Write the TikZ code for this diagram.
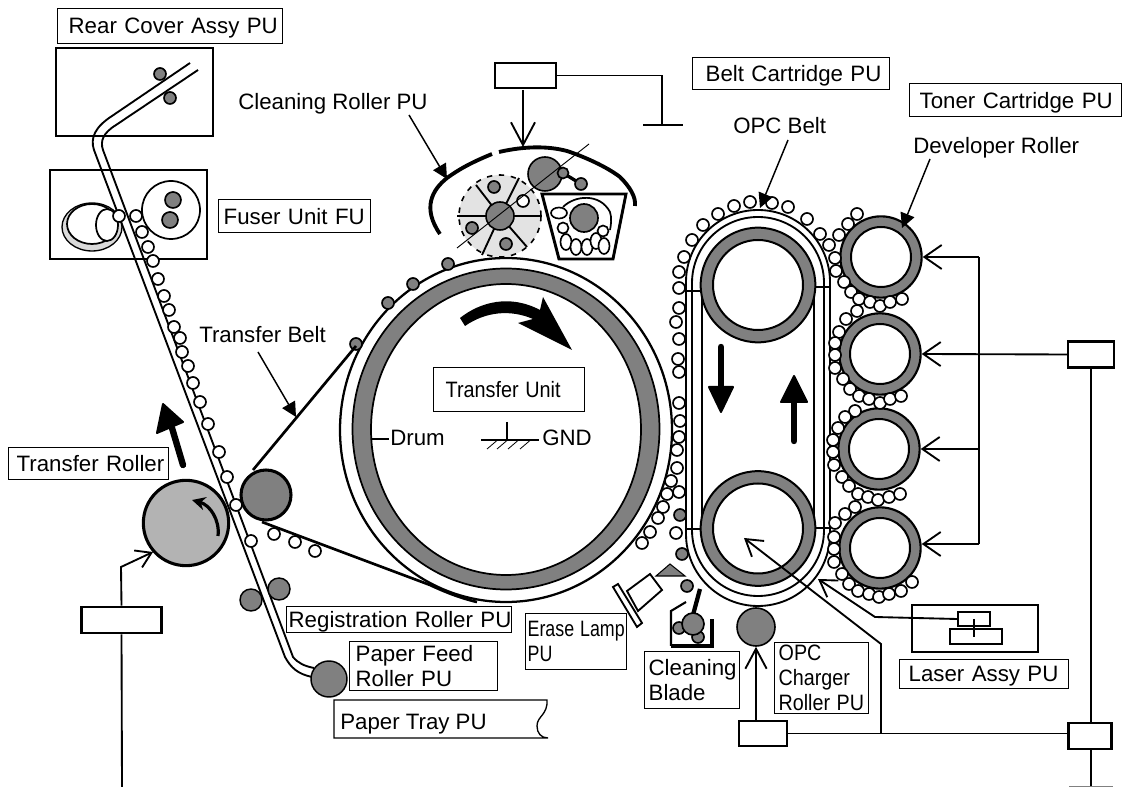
\documentclass[tikz,border=0pt]{standalone}
\usepackage{graphicx}
\usepackage{fontspec}
\setmainfont{Liberation Sans}
\usetikzlibrary{arrows.meta}
\definecolor{gr}{HTML}{808080}
\definecolor{lgr}{HTML}{B3B3B3}
\definecolor{disc}{HTML}{E3E3E3}
\definecolor{pale}{HTML}{DADADA}
\tikzset{
 lbl/.style={font=\fontsize{16.7pt}{18.75pt}\selectfont,inner sep=0pt},
 labelbox/.style={lbl,draw,line width=1pt,inner ysep=0pt,align=left,text depth=0pt},
 ctl/.style={draw,line width=1.6pt,fill=white,inner sep=0pt},
 wire/.style={line width=1.4pt},
 barb/.style={-{Straight Barb[length=13pt,width=18pt]},line width=1.4pt},
 sbarb/.style={-{Straight Barb[length=11pt,width=14pt]},line width=1.4pt},
 fhead/.style={-{Triangle[length=11pt,width=11pt]},line width=1.1pt},
 bead/.style={draw,fill=white,line width=1.25pt},
 gbead/.style={draw,fill=gr,line width=1.25pt},
 roll/.style={circle,draw,fill=gr,inner sep=0pt,line width=1.3pt},
 devr/.style={roll,minimum size=61pt,line width=1.6pt},
 thickarr/.style={fill=black,draw=black,line width=1.5pt,line join=round},
 paper/.style={line width=1.4pt},
}
\newcommand{\lbox}[8][]{%
 \pgfmathsetlengthmacro{\ww}{(#5-#3-2*#7)*0.75pt}%
 \pgfmathsetlengthmacro{\hh}{(#6-#4)*0.75pt}%
 \pgfmathsetlengthmacro{\pp}{#7*0.75pt}%
 \node[labelbox,#1,text width=\ww,inner xsep=\pp,minimum height=\hh,anchor=north west] (#2) at (#3,#4) {#8};}
\begin{document}
\begin{tikzpicture}[x=0.75pt,y=-0.75pt]
\useasboundingbox (0,0) rectangle (1122,787);
\fill[white] (0,0) rectangle (1122,787);
% ---- rear cover / fuser
\draw[line width=1.6pt] (56,48) rectangle (213,136);
\draw[line width=1.6pt] (50,170) rectangle (207,259);
\fill[pale,draw=black,line width=1pt] (92,227) ellipse [x radius=30,y radius=24];
\draw[fill=white,line width=1.3pt] (92,224) ellipse [x radius=25,y radius=20];
\draw[fill=white,line width=1.3pt] (107,225) ellipse [x radius=11,y radius=16];
\draw[fill=white,line width=1.3pt] (171,210) circle [radius=29];
\draw[gbead] (173,200) circle [radius=8];
\draw[gbead] (170,220) circle [radius=8];
\draw[gbead] (160,74) circle [radius=6];
\draw[gbead] (170,98) circle [radius=6];
% ---- paper path
\draw[paper] (190,63) -- (112,116) .. controls (95,127) and (90,138) .. (94,150) -- (285,657) .. controls (291,668) and (298,674) .. (312,677);
\draw[paper] (198,70) -- (116,125) .. controls (103,133) and (100,141) .. (103,150) -- (293,657) .. controls (298,663) and (304,666) .. (314,668);
\foreach \p in {(119,216),(136,216),(142,232),(148,247),(153,261),(158,279),(164,296),(169,310),(174,327),(180,338),(182,352),(188,366),(193,383),(200,402),(208,424),(219,452),(227,477)}
  \draw[bead] \p circle [radius=6];
% ---- drum
\draw[line width=1.7pt,fill=white] (506,430) ellipse [x radius=166,y radius=172];
\draw[line width=1.3pt,fill=gr] (506,429) ellipse [x radius=153.5,y radius=160.5];
\draw[line width=1.3pt,fill=white] (506,429.5) ellipse [x radius=135,y radius=145.5];
\foreach \p in {(448,264),(413,284),(388,303),(356,344)}
  \draw[gbead] \p circle [radius=6];
% ---- transfer belt and rollers
\draw[line width=2pt] (253,470) -- (356,346);
\draw[line width=2pt] (262,522) -- (430,585) .. controls (445,592) and (460,598) .. (477,602);
\node[roll,minimum size=37.5pt,line width=2.3pt] (tbelt) at (266,495) {};
\node[roll,fill=lgr,minimum size=64pt,line width=2.3pt] (troll) at (186,523) {};
\foreach \p in {(236,505),(251,541),(274,534),(295,542),(315,551)}
  \draw[bead] \p circle [radius=6];
\draw[-{Stealth[length=10pt,width=10pt]},line width=2.4pt] (218,536) .. controls (220,520) and (210,505) .. (192,500);
\node[roll,minimum size=16.5pt,line width=1.1pt] (reg1) at (251,600) {};
\node[roll,minimum size=16.5pt,line width=1.1pt] (reg2) at (279,589) {};
\node[roll,minimum size=27pt,line width=1.1pt] (feed1) at (329,679) {};
% big upward arrow near transfer roller
\draw[line width=4.8pt,line cap=round] (183,465) -- (172,428);
\fill[thickarr] (163,404) -- (183,422) -- (157,433) -- cycle;
% big curved arrow in drum
\fill[black] (460,318) .. controls (480,302) and (510,294) .. (540,310) -- (543,297) -- (572,350) -- (518,323) -- (533,319) .. controls (510,309) and (485,312) .. (465,326) -- cycle;
% ---- cleaning roller unit
\draw[line width=2.9pt] (492,154) .. controls (470,163) and (458,170) .. (447,178) .. controls (432,190) and (422,208) .. (440,234);
\draw[line width=2.9pt] (499,152) .. controls (525,146) and (548,146) .. (567,151) .. controls (585,157) and (607,167) .. (620,177) .. controls (630,187) and (636,197) .. (635,206);
\fill[disc] (500,216) circle [radius=41];
\draw[line width=1.2pt,dash pattern=on 4pt off 5pt] (500,216) circle [radius=41];
\foreach \e in {(457,216),(542,216),(519,178),(476,185),(482,255),(527,247)}
  \draw[line width=1.4pt] (500,216) -- \e;
\node[roll,minimum size=21pt,line width=1.2pt] (clean) at (500,216) {};
\draw[gbead] (494,187) circle [radius=6];
\draw[gbead] (472,228) circle [radius=6];
\draw[gbead] (506,244) circle [radius=6];
\draw[bead] (523,201) circle [radius=6];
\node[roll,minimum size=25.5pt,line width=1.2pt] (top) at (545,174) {};
\draw[line width=2.5pt] (563,173) -- (581,184);
\draw[gbead] (563,173) circle [radius=5.5];
\draw[gbead] (581,184) circle [radius=6];
\coordinate (dia1) at (457,248);
\coordinate (dia2) at (589,144);
\draw[line width=.7pt] (dia1) -- (dia2);
% toner cartridge
\draw[line width=2.2pt,fill=white] (542,194) -- (626,194) -- (613,259) -- (559,259) -- cycle;
\draw[line width=1.3pt] (563,207) .. controls (575,195) and (600,193) .. (610,212) .. controls (612,218) and (611,225) .. (610,230);
\draw[gbead] (584,218) circle [radius=14];
\draw[bead] (559,213) ellipse [x radius=8,y radius=5.5];
\draw[bead] (563,228) circle [radius=5.5];
\draw[bead] (603,231) circle [radius=5.5];
\foreach \p in {(566,242),(576,247),(587,247),(596,241),(604,246)}
  \draw[bead] \p ellipse [x radius=5.5,y radius=8];
% ---- OPC belt
\draw[line width=1.4pt] (686,534) -- (686,282) arc [start angle=180,end angle=360,radius=72] -- (830,534) arc [start angle=0,end angle=180,radius=72];
\draw[line width=1.4pt] (692,530) -- (692,283) arc [start angle=180,end angle=360,radius=66] -- (824,530) arc [start angle=0,end angle=180,radius=66];
\draw[line width=1.1pt] (702,285) -- (702,528) (814,285) -- (814,528);
\draw[line width=1.2pt] (686,291) -- (702,291) (814,287) -- (830,287) (686,529) -- (702,529) (814,528) -- (830,528);
\node[roll,minimum size=86pt,line width=1.5pt] (opc1) at (758,285) {};
\node[roll,minimum size=86pt,line width=1.5pt] (opc2) at (758,528.5) {};
\draw[line width=1.5pt,fill=white] (opc1) circle [radius=45];
\draw[line width=1.5pt,fill=white] (opc2) circle [radius=45];
\draw[line width=4.8pt,line cap=round] (721,347) -- (721,390);
\fill[thickarr] (709,387) -- (733,387) -- (721,412) -- cycle;
\draw[line width=4.8pt,line cap=round] (794,441) -- (794,400);
\fill[thickarr] (781,402) -- (807,402) -- (794,376) -- cycle;
\foreach \p in {(788,207),(772,203),(750,202),(734,206),(718,214),(703,225),(692,240),(684,257),(679,272),(679,288),(679,308),(676,322),(679,339),(678,359),(679,372),(679,403),(680,421),(679,437),(677,450),(677,468),(671,481),(667,494),(663,507),(658,518),(650,532),(642,543),(679,492),(676,533),(807,219),(820,234),(829,245)}
  \draw[bead] \p circle [radius=6];
\foreach \p in {(680,515),(682,554),(687,586)}
  \draw[gbead] \p circle [radius=6];
% developer rollers
\node[devr] (d1) at (881,257) {};
\node[devr] (d2) at (880,354) {};
\node[devr] (d3) at (879,449) {};
\node[devr] (d4) at (880,548) {};
\foreach \n in {d1,d2,d3,d4} \draw[line width=1.5pt,fill=white] (\n) circle [radius=30];
\foreach \p in {(857,214),(848,224),(839,235),(835,258),(836,271),(844,282),(851,292),(859,299),(870,302),(880,306),(890,302),(902,299),
 (857,311),(846,319),(839,332),(835,343),(835,355),(835,368),(843,379),(850,389),(859,396),(869,399),(880,403),(890,399),(901,396),
 (855,411),(845,417),(838,428),(833,440),(833,452),(834,465),(842,477),(849,486),(858,494),(868,497),(878,500),(889,497),(900,494),
 (855,507),(845,514),(835,523),(834,537),(834,549),(834,562),(842,574),(849,584),(858,591),(869,594),(879,597),(889,594),(901,591),(912,582)}
  \draw[bead] \p circle [radius=6];
% ---- control boxes and wires
\node[ctl,minimum width=45.75pt,minimum height=18.75pt] (c1) at (525.5,75.5) {};
\node[ctl,minimum width=60pt,minimum height=20pt] (c2) at (121.5,620) {};
\node[ctl,minimum width=34.5pt,minimum height=19.5pt] (c3) at (1091,354.5) {};
\node[ctl,minimum width=36pt,minimum height=18.75pt] (c4) at (763,733.5) {};
\node[ctl,minimum width=32.25pt,minimum height=19.5pt] (c5) at (1090,736) {};
\coordinate (gnd1) at (662,125);
\coordinate (gndl) at (643,125);
\coordinate (gndr) at (683,125);
\draw[wire] (c1.east) -| (gnd1);
\draw[wire] (gndl) -- (gndr);
\coordinate (c1a) at (523,90);
\coordinate (c1b) at (523,147);
\draw[barb,-{Straight Barb[length=17pt,width=18pt]}] (c1a) -- (c1b);
\coordinate (bot) at (122,787);
\coordinate (k1) at (121,567);
\coordinate (k2) at (153,552);
\draw[wire] (bot) -- (c2.south);
\draw[sbarb] (c2.north) -- (k1) -- (k2);
\coordinate (r1) at (979,257);
\coordinate (r4) at (979,544);
\draw[barb] (r1) -- (d1.east);
\draw[wire] (r1) -- (r4);
\draw[barb] (c3.west) -- (d2.east);
\draw[barb] (979,449) -- (d3.east);
\draw[barb] (r4) -- (d4.east |- r4);
\draw[wire] (c3.south) -- (c5.north -| c3.south);
\draw[wire] (c4.east) -- (c4.east -| c5.west);
\node[roll,minimum size=28.5pt,line width=1.2pt] (charge) at (756,627) {};
\draw[barb,-{Straight Barb[length=15pt,width=16pt]}] (c4.north -| charge.south) -- (charge.south);
\coordinate (k3) at (881,644);
\coordinate (t3) at (744,538);
\draw[barb,-{Straight Barb[length=12pt,width=15pt]}] (881,733) -- (k3) -- (t3);
\coordinate (b5a) at (1091,749);
\coordinate (b5b) at (1091,786);
\draw[wire] (b5a) -- (b5b);
\draw[line width=.8pt,gray] (1069,786.6) -- (1113,786.6);
% laser
\node[draw,line width=1.7pt,minimum width=94.5pt,minimum height=35.25pt,inner sep=0pt] (laser) at (975,628.5) {};
\node[draw,line width=1.4pt,minimum width=24pt,minimum height=10.5pt,inner sep=0pt] (las1) at (974,619) {};
\node[draw,line width=1.4pt,minimum width=39pt,minimum height=11.25pt,inner sep=0pt] (las2) at (976,636.5) {};
\coordinate (las3) at (974,619);
\coordinate (las4) at (974,637);
\draw[line width=1.4pt] (las3) -- (las4);
\coordinate (k4) at (875,617);
\coordinate (t4) at (818,579);
\draw[barb,-{Straight Barb[length=12pt,width=15pt]}] (las1.west) -- (k4) -- (t4);
% erase lamp, blade
\fill[gr,draw=black,line width=.8pt] (656,576) -- (670,564) -- (685,576) -- cycle;
\draw[line width=1.4pt,fill=white] (627,591) -- (650,574) -- (662,590) -- (638,611) -- cycle;
\draw[line width=1.4pt,fill=white] (613,587) -- (618,584) -- (642,623) -- (637,627) -- cycle;
\draw[line width=1.6pt] (686,602) -- (671,611) -- (671,646);
\draw[line width=2.3pt] (671,646) -- (712,646) -- (712,619);
\draw[line width=3.2pt] (700,589) -- (693,615);
\draw[gbead] (679,628) circle [radius=6];
\draw[gbead] (698,637) circle [radius=6];
\draw[gbead] (693,624) circle [radius=11];
% paper tray outline
\draw[line width=1pt] (548,738) -- (334,738) -- (334,700) -- (547,700) .. controls (548,715) and (537,716) .. (537,726) .. controls (537,733) and (541,738) .. (548,738);
% ---- GND and drum stub
\coordinate (dr1) at (372,439); \coordinate (dr2) at (389,439);
\draw[line width=.8pt] (dr1) -- (dr2);
\coordinate (g1) at (507,422); \coordinate (g2) at (507,440);
\coordinate (g3) at (481,440); \coordinate (g4) at (539,440);
\draw[line width=.8pt] (g1) -- (g2) (g3) -- (g4);
\foreach \x in {487,497,508,520}
  \draw[line width=.6pt] (\x,449) -- ++(10,-8.5);
% ---- labels
\lbox{rear}{57}{8}{282}{43}{11}{\mbox{Rear Cover Assy PU}}
\lbox{fuserl}{218}{199}{370}{232}{5}{\mbox{Fuser Unit FU}}
\lbox{beltl}{692}{57}{889}{89}{13}{\mbox{Belt Cartridge PU}}
\lbox{tonerl}{909}{83}{1121}{116}{10}{\mbox{Toner Cartridge PU}}
\lbox{trl}{8}{447}{168}{479}{8}{\mbox{Transfer Roller}}
\lbox{regl}{286}{606}{511}{632}{2}{\mbox{Registration Roller PU}}
\lbox[text depth=18.75pt]{feedl}{349}{641}{497}{690}{6}{\mbox{Paper Feed}\\\mbox{Roller PU}}
\lbox{tul}{433}{367}{584}{411}{12}{\mbox{\scalebox{.89}[1]{Transfer Unit}}}
\lbox[text depth=18.75pt]{erasel}{525}{613}{626}{669}{2}{\mbox{\scalebox{.8}[1]{Erase Lamp}}\\\mbox{\scalebox{.8}[1]{PU}}}
\lbox[text depth=18.75pt]{bladel}{644}{651}{739}{708}{4}{\mbox{Cleaning}\\\mbox{Blade}}
\lbox[text depth=37.5pt]{chargel}{774}{642}{868}{713}{4}{\mbox{\scalebox{.885}[1]{OPC}}\\\mbox{\scalebox{.885}[1]{Charger}}\\\mbox{\scalebox{.885}[1]{Roller PU}}}
\lbox{laserl}{899}{659}{1068}{688}{9}{\mbox{Laser Assy PU}}
\node[lbl,anchor=base west] (tray) at (340,730) {Paper Tray PU};
\node[lbl,anchor=base west] (crl) at (238,110) {Cleaning Roller PU};
\node[lbl,anchor=base west] (opcl) at (733,134) {OPC Belt};
\node[lbl,anchor=base west] (devl) at (913,154) {Developer Roller};
\node[lbl,anchor=base west] (tbl) at (199,343) {Transfer Belt};
\node[lbl,anchor=base west] (druml) at (390,446) {Drum};
\node[lbl,anchor=base west] (gndl2) at (542,446) {GND};
% ---- filled-head pointers
\coordinate (a1) at (447,179);
\draw[fhead] (409,115) -- (a1);
\coordinate (a2) at (760,208);
\draw[fhead] (788,140) -- (a2);
\coordinate (a3) at (902,228);
\draw[fhead] (930,159) -- (a3);
\coordinate (a4) at (296,417);
\draw[fhead] (258,352) -- (a4);
\end{tikzpicture}
\end{document}
